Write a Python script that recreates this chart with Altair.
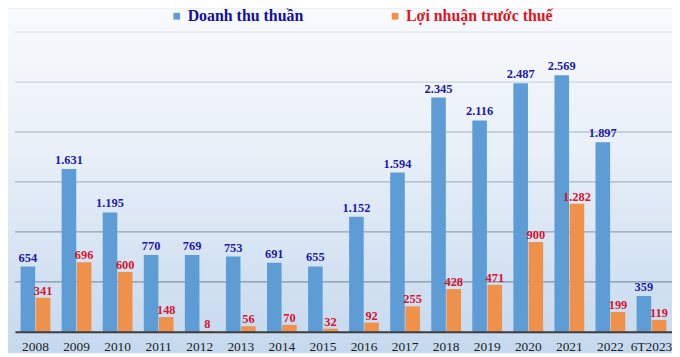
import altair as alt
import pandas as pd

years = ["2008", "2009", "2010", "2011", "2012", "2013", "2014", "2015",
         "2016", "2017", "2018", "2019", "2020", "2021", "2022", "6T2023"]
revenue = [654, 1631, 1195, 770, 769, 753, 691, 655,
           1152, 1594, 2345, 2116, 2487, 2569, 1897, 359]
profit = [341, 696, 600, 148, 8, 56, 70, 32,
          92, 255, 428, 471, 900, 1282, 199, 119]
series = ["Doanh thu thuần", "Lợi nhuận trước thuế"]
grid_values = [500, 1000, 1500, 2000, 2500, 3000]

df = pd.DataFrame({
    "year": years * 2,
    "series": [series[0]] * len(years) + [series[1]] * len(years),
    "value": revenue + profit,
})

W, H = 662, 325
PAD_B = 21
YMAX = 3228
FONT = "Liberation Serif"

yscale = alt.Scale(domain=[0, YMAX], nice=False, zero=True)
x = alt.X("year:N", sort=years,
          scale=alt.Scale(domain=years, paddingInner=0.275, paddingOuter=0.1375),
          axis=alt.Axis(title=None, labelAngle=0, ticks=False, domain=True,
                        domainColor="#3c3c3c", domainWidth=2, grid=False,
                        labelFont=FONT, labelFontSize=13.5, labelColor="#1c1c1c",
                        labelPadding=8, zindex=1))
xo = alt.XOffset("series:N", scale=alt.Scale(domain=series, paddingInner=0.04))
y = alt.Y("value:Q", scale=yscale, axis=None)

bg = alt.Chart(alt.Data(values=[{}])).mark_rect(
    fill=alt.Gradient(
        gradient="linear",
        stops=[alt.GradientStop(color="#f8fafd", offset=0),
               alt.GradientStop(color="#e9f0f8", offset=0.4),
               alt.GradientStop(color="#c5d9ee", offset=1)],
        x1=0, x2=0, y1=0, y2=1)
).encode(x=alt.value(-7), x2=alt.value(W), y=alt.value(0), y2=alt.value(H + PAD_B))

grid = alt.Chart(pd.DataFrame({"g": grid_values})).mark_rule(strokeWidth=1.3).encode(
    y=alt.Y("g:Q", scale=yscale, axis=None),
    stroke=alt.Stroke("g:Q", scale=alt.Scale(domain=[500, 3000], range=["#8294a8", "#dfe5ec"]),
                      legend=None),
)

bars = alt.Chart(df).mark_bar().encode(
    x=x, xOffset=xo, y=y,
    color=alt.Color("series:N",
                    scale=alt.Scale(domain=series, range=["#5e9cd6", "#f0914b"]),
                    legend=alt.Legend(
                        title=None, orient="none", legendX=155, legendY=-1,
                        direction="horizontal", symbolType="square", symbolSize=46,
                        symbolStrokeWidth=0, labelFont=FONT, labelFontWeight="bold",
                        labelFontSize=16,
                        labelColor={"expr": "datum.value == 'Doanh thu thuần' ? '#10109c' : '#e0141e'"},
                        labelOffset=3, columnPadding=84, padding=0, zindex=1, labelLimit=300)),
)

base = alt.Chart(df).transform_calculate(
    label="replace(format(datum.value, ','), ',', '.')"
)
rev_text = base.transform_filter(alt.datum.series == series[0]).mark_text(
    font=FONT, fontWeight="bold", fontSize=12.5, color="#1a1aa6",
    baseline="alphabetic", dy=-5
).encode(x=x, xOffset=xo, y=y, text="label:N")
pro_text = base.transform_filter(alt.datum.series == series[1]).mark_text(
    font=FONT, fontWeight="bold", fontSize=12.5, color="#d8142c",
    baseline="alphabetic", dy=-3
).encode(x=x, xOffset=xo, y=y, text="label:N")

chart = alt.layer(bg, grid, bars, rev_text, pro_text).properties(
    width=W, height=H,
    padding={"left": 7, "top": 0, "right": 0, "bottom": PAD_B},
    autosize="none",
    background="#e9f0f8",
).configure_view(stroke=None)

chart.save("out.html", embed_options={"renderer": "svg", "actions": False})
